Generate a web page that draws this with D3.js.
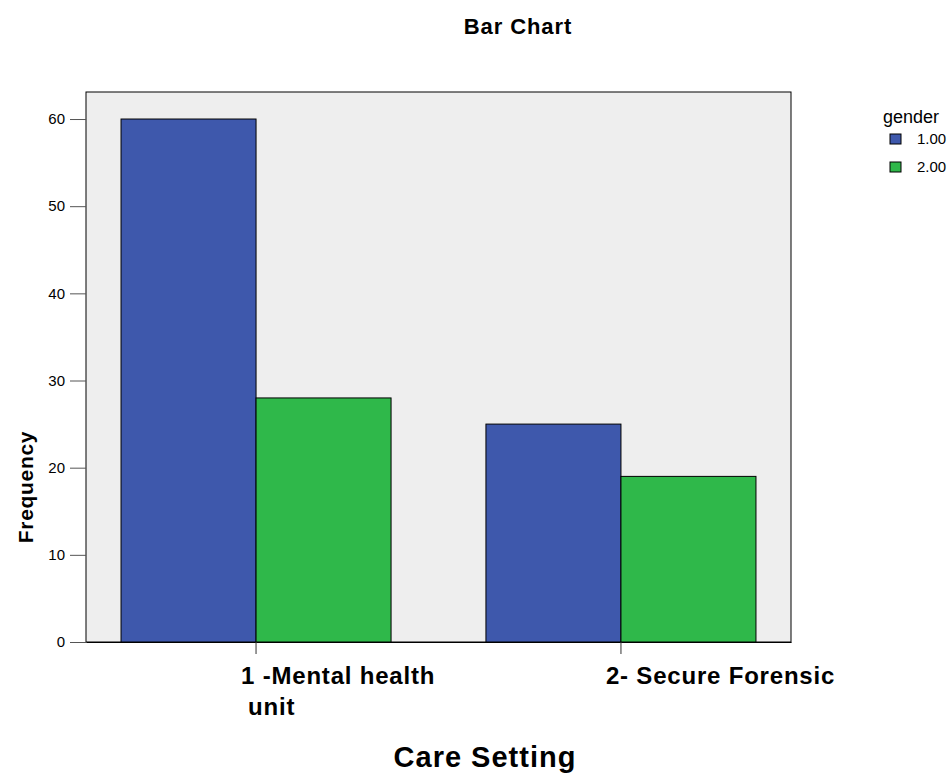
<!DOCTYPE html>
<html>
<head>
<meta charset="utf-8">
<script src="https://cdn.jsdelivr.net/npm/d3@7/dist/d3.min.js"></script>
<style>
  html, body { margin: 0; padding: 0; background: #ffffff; }
  svg { display: block; font-family: "Liberation Sans", Arial, sans-serif; }
</style>
</head>
<body>
<svg id="chart" width="952" height="774"></svg>
<script>
const categories = ["1 -Mental health unit", "2- Secure Forensic"];
const categoryLines = [["1 -Mental health", "unit"], ["2- Secure Forensic"]];
const genders = ["1.00", "2.00"];
const series1 = [60, 25];   // gender 1.00
const series2 = [28, 19];   // gender 2.00
const yTicks = [0, 10, 20, 30, 40, 50, 60];
const colors = ["#3e58ac", "#2fb84a"];

const svg = d3.select("#chart");
const plot = { left: 86, right: 791, top: 92, bottom: 642 };

const x0 = d3.scaleBand().domain(categories)
  .range([plot.left, plot.right]).paddingInner(0.26).paddingOuter(0.096);
const x1 = d3.scaleBand().domain(genders).range([0, x0.bandwidth()]).padding(0);
const y = d3.scaleLinear().domain([0, 63.1]).range([plot.bottom, plot.top]);

// background
svg.append("rect")
  .attr("x", plot.left).attr("y", plot.top)
  .attr("width", plot.right - plot.left).attr("height", plot.bottom - plot.top)
  .attr("fill", "#eeeeee").attr("stroke", "#000").attr("stroke-width", 1);

// bars
const data = categories.map((c, i) => ({ cat: c, vals: [series1[i], series2[i]] }));
const g = svg.append("g");
data.forEach(d => {
  d.vals.forEach((v, j) => {
    g.append("rect")
      .attr("x", x0(d.cat) + x1(genders[j]))
      .attr("y", y(v))
      .attr("width", x1.bandwidth())
      .attr("height", y(0) - y(v))
      .attr("fill", colors[j])
      .attr("stroke", "#000").attr("stroke-width", 1);
  });
});

// y axis
const yAxis = d3.axisLeft(y).tickValues(yTicks).tickSize(16).tickSizeOuter(0).tickPadding(5).tickFormat(d3.format("d"));
const ya = svg.append("g").attr("transform", `translate(${plot.left},0)`).call(yAxis);
ya.select(".domain").remove();
ya.selectAll("line").attr("stroke", "#555");
ya.selectAll("text").attr("font-size", 15).attr("fill", "#000")
  .attr("font-family", "'Liberation Sans', Arial, sans-serif");

// x axis
const xAxis = d3.axisBottom(x0).tickSize(12).tickSizeOuter(0).tickFormat("");
const xa = svg.append("g").attr("transform", `translate(0,${plot.bottom})`).call(xAxis);
xa.select(".domain").attr("stroke", "#000");
xa.selectAll("line").attr("stroke", "#333");

// category labels
categories.forEach((c, i) => {
  const cx = x0(c) + x0.bandwidth() / 2;
  const lines = categoryLines[i];
  const t = svg.append("text")
    .attr("font-size", 24).attr("font-weight", "bold").attr("fill", "#000")
    .attr("letter-spacing", 0.8);
  lines.forEach((ln, k) => {
    t.append("tspan")
      .attr("x", cx - 15 + (k > 0 ? 7 : 0))
      .attr("y", 684 + k * 31)
      .text(ln);
  });
});

// titles
svg.append("text").attr("x", 518).attr("y", 34).attr("text-anchor", "middle")
  .attr("font-size", 22).attr("font-weight", "bold").attr("letter-spacing", 0.9).text("Bar Chart");
svg.append("text").attr("x", 485).attr("y", 767).attr("text-anchor", "middle")
  .attr("font-size", 29).attr("font-weight", "bold").attr("letter-spacing", 1).text("Care Setting");
svg.append("text").attr("transform", "translate(33,487) rotate(-90)").attr("text-anchor", "middle")
  .attr("font-size", 21).attr("font-weight", "bold").attr("letter-spacing", 0.7).text("Frequency");

// legend
const lg = svg.append("g");
lg.append("text").attr("x", 883).attr("y", 123).attr("font-size", 18).text("gender");
genders.forEach((gname, i) => {
  lg.append("rect").attr("x", 890).attr("y", 134 + i * 28).attr("width", 11).attr("height", 10)
    .attr("fill", colors[i]).attr("stroke", "#000").attr("stroke-width", 1);
  lg.append("text").attr("x", 917).attr("y", 144 + i * 28).attr("font-size", 15).text(gname);
});
</script>
</body>
</html>
